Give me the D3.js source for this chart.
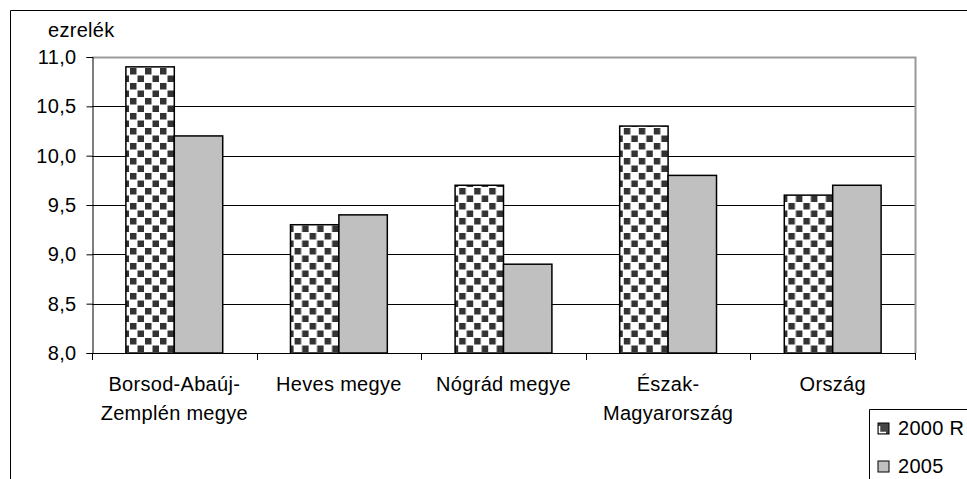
<!DOCTYPE html>
<html>
<head>
<meta charset="utf-8">
<script src="https://cdn.jsdelivr.net/npm/d3@7"></script>
<style>
  body { margin: 0; background: #fff; }
  svg text { font-family: "Liberation Sans", Arial, sans-serif; fill: #000; font-size: 20px; letter-spacing: 0.3px; }
</style>
</head>
<body>
<svg id="chart" width="967" height="479"></svg>
<script>
// data
var categories = [['Borsod-Abaúj-', 'Zemplén megye'], ['Heves megye'], ['Nógrád megye'], ['Észak-', 'Magyarország'], ['Ország']];
var series2000 = [10.9, 9.3, 9.7, 10.3, 9.6];
var series2005 = [10.2, 9.4, 8.9, 9.8, 9.7];
var seriesNames = ['2000 R', '2005'];
var yTicks = [8.0, 8.5, 9.0, 9.5, 10.0, 10.5, 11.0];

var svg = d3.select('#chart');

var plotLeft = 92, plotRight = 915, plotTop = 57, plotBottom = 353;

var x = d3.scaleBand()
  .domain(d3.range(categories.length))
  .range([plotLeft, plotRight]);

var inner = d3.scaleBand()
  .domain([0, 1])
  .range([0, x.bandwidth()])
  .paddingOuter(0.7);

var y = d3.scaleLinear()
  .domain([8, 11])
  .range([plotBottom, plotTop]);

// checker pattern
var defs = svg.append('defs');
var pat = defs.append('pattern')
  .attr('id', 'checker')
  .attr('patternUnits', 'userSpaceOnUse')
  .attr('width', 15).attr('height', 15);
pat.append('rect').attr('width', 15).attr('height', 15).attr('fill', '#fff');
pat.append('rect').attr('x', 0.5).attr('y', 0.5).attr('width', 6.5).attr('height', 6.5).attr('fill', '#333');
pat.append('rect').attr('x', 8).attr('y', 8).attr('width', 6.5).attr('height', 6.5).attr('fill', '#333');

// outer frame
svg.append('path')
  .attr('d', 'M10.5,479 V10.5 H967')
  .attr('fill', 'none')
  .attr('stroke', '#000');

// gridlines
svg.append('g')
  .selectAll('line')
  .data(yTicks.filter(d => d > 8 && d < 11))
  .enter().append('line')
  .attr('x1', plotLeft).attr('x2', plotRight)
  .attr('y1', d => Math.round(y(d)) + 0.5)
  .attr('y2', d => Math.round(y(d)) + 0.5)
  .attr('stroke', '#000');

// plot area border (top, right)
svg.append('path')
  .attr('d', 'M' + plotLeft + ',' + (plotTop + 0.5) + ' H' + (plotRight + 0.5) + ' V' + plotBottom)
  .attr('fill', 'none')
  .attr('stroke', '#999')
  .attr('stroke-width', 2);

// bars
var groups = svg.append('g')
  .selectAll('g')
  .data(categories)
  .enter().append('g')
  .attr('transform', (d, i) => 'translate(' + x(i) + ',0)');

groups.append('rect')
  .attr('x', inner(0))
  .attr('y', (d, i) => y(series2000[i]))
  .attr('width', inner.bandwidth())
  .attr('height', (d, i) => plotBottom - y(series2000[i]))
  .attr('fill', 'url(#checker)')
  .attr('stroke', '#000')
  .attr('stroke-width', 1.5);

groups.append('rect')
  .attr('x', inner(1))
  .attr('y', (d, i) => y(series2005[i]))
  .attr('width', inner.bandwidth())
  .attr('height', (d, i) => plotBottom - y(series2005[i]))
  .attr('fill', '#c0c0c0')
  .attr('stroke', '#000')
  .attr('stroke-width', 1.5);

// y axis
var yAxis = d3.axisLeft(y)
  .tickValues(yTicks)
  .tickSize(6)
  .tickPadding(10)
  .tickFormat(d => d3.format('.1f')(d).replace('.', ','));

svg.append('g')
  .attr('transform', 'translate(' + (plotLeft + 0.5) + ',0)')
  .attr('font-size', null)
  .attr('font-family', null)
  .call(yAxis)
  .call(g => g.select('.domain').attr('stroke', '#000'))
  .call(g => g.selectAll('text').attr('fill', '#000'));

// x axis line and ticks
svg.append('line')
  .attr('x1', plotLeft).attr('x2', plotRight + 1)
  .attr('y1', plotBottom + 0.5).attr('y2', plotBottom + 0.5)
  .attr('stroke', '#000');

svg.append('g')
  .selectAll('line')
  .data(d3.range(categories.length + 1))
  .enter().append('line')
  .attr('x1', i => Math.round(plotLeft + i * x.step()) + 0.5)
  .attr('x2', i => Math.round(plotLeft + i * x.step()) + 0.5)
  .attr('y1', plotBottom).attr('y2', plotBottom + 7)
  .attr('stroke', '#000');

// category labels
var labels = svg.append('g')
  .selectAll('text')
  .data(categories)
  .enter().append('text')
  .attr('x', (d, i) => x(i) + x.bandwidth() / 2)
  .attr('y', 391)
  .attr('text-anchor', 'middle');

labels.selectAll('tspan')
  .data(d => d)
  .enter().append('tspan')
  .attr('x', function() { return this.parentNode.getAttribute('x'); })
  .attr('dy', (d, i) => i === 0 ? 0 : 29)
  .text(d => d);

// unit label
svg.append('text')
  .attr('x', 48).attr('y', 37)
  .text('ezrelék');

// legend
svg.append('path')
  .attr('d', 'M967,409.5 H869.5 V479')
  .attr('fill', 'none')
  .attr('stroke', '#000');

var legendFills = ['#444', '#c0c0c0'];
var leg = svg.append('g')
  .selectAll('g')
  .data(seriesNames)
  .enter().append('g')
  .attr('transform', (d, i) => 'translate(878,' + (423 + i * 38) + ')');

leg.append('rect')
  .attr('width', 11).attr('height', 11)
  .attr('fill', (d, i) => legendFills[i])
  .attr('stroke', '#000');

leg.filter((d, i) => i === 0).append('path')
  .attr('d', 'M1.5,3 V9.5 H8')
  .attr('fill', 'none')
  .attr('stroke', '#fff')
  .attr('stroke-width', 1.5);

leg.append('text')
  .attr('x', 20).attr('y', 12)
  .text(d => d);
</script>
</body>
</html>
